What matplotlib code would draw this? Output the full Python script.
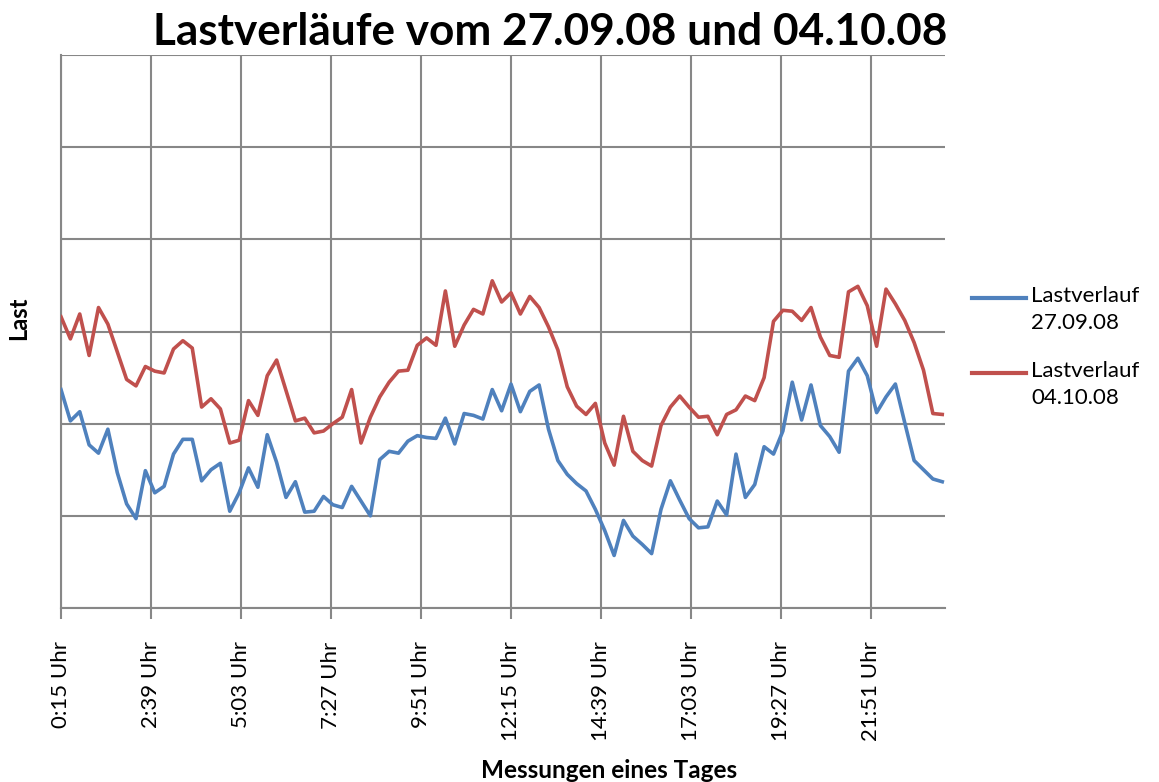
import matplotlib
matplotlib.use("Agg")
import matplotlib.pyplot as plt
from matplotlib.lines import Line2D
import numpy as np

plt.rcParams['font.family'] = ['Lato', 'DejaVu Sans']

# ---- data (arbitrary load units) ----
series_names = ["Lastverlauf\n27.09.08", "Lastverlauf\n04.10.08"]
load_2709 = [2.37, 2.03, 2.13, 1.77, 1.68, 1.94, 1.47, 1.13, 0.97, 1.49,
             1.25, 1.32, 1.67, 1.83, 1.83, 1.38, 1.50, 1.57, 1.05, 1.25,
             1.52, 1.31, 1.88, 1.58, 1.20, 1.37, 1.04, 1.05, 1.21, 1.12,
             1.09, 1.32, 1.16, 1.00, 1.61, 1.70, 1.68, 1.81, 1.87, 1.85,
             1.84, 2.06, 1.78, 2.11, 2.09, 2.05, 2.37, 2.14, 2.43, 2.13,
             2.35, 2.42, 1.94, 1.60, 1.45, 1.35, 1.27, 1.07, 0.84, 0.57,
             0.95, 0.78, 0.69, 0.59, 1.07, 1.38, 1.17, 0.97, 0.87, 0.88,
             1.16, 1.01, 1.67, 1.20, 1.34, 1.75, 1.67, 1.92, 2.45, 2.04,
             2.42, 1.98, 1.86, 1.69, 2.57, 2.71, 2.52, 2.12, 2.29, 2.43,
             2.01, 1.60, 1.50, 1.40, 1.37]
load_0410 = [3.16, 2.92, 3.19, 2.74, 3.26, 3.08, 2.78, 2.48, 2.41, 2.62,
             2.57, 2.55, 2.81, 2.90, 2.82, 2.18, 2.27, 2.16, 1.79, 1.82,
             2.25, 2.09, 2.52, 2.69, 2.36, 2.03, 2.06, 1.90, 1.92, 2.00,
             2.07, 2.37, 1.79, 2.07, 2.29, 2.45, 2.57, 2.58, 2.85, 2.93,
             2.85, 3.44, 2.84, 3.07, 3.24, 3.19, 3.55, 3.32, 3.42, 3.19,
             3.38, 3.26, 3.05, 2.80, 2.40, 2.19, 2.10, 2.22, 1.79, 1.55,
             2.08, 1.70, 1.60, 1.54, 1.98, 2.18, 2.30, 2.18, 2.07, 2.08,
             1.88, 2.10, 2.15, 2.30, 2.25, 2.50, 3.11, 3.23, 3.22, 3.12,
             3.26, 2.94, 2.74, 2.72, 3.43, 3.49, 3.28, 2.84, 3.46, 3.30,
             3.12, 2.88, 2.58, 2.11, 2.10]
tick_labels = ["0:15 Uhr", "2:39 Uhr", "5:03 Uhr", "7:27 Uhr", "9:51 Uhr",
               "12:15 Uhr", "14:39 Uhr", "17:03 Uhr", "19:27 Uhr", "21:51 Uhr"]
colors = ["#4F81BD", "#C0504D"]

W, H = 1159, 782
fig = plt.figure(figsize=(W / 100, H / 100), dpi=100)
L, R, T, B = 61, 945, 55, 608
ax = fig.add_axes([L / W, (H - B) / H, (R - L) / W, (B - T) / H])

x = np.arange(len(load_2709))
ax.plot(x, load_2709, color=colors[0], lw=2.6, solid_joinstyle='round', zorder=3)
ax.plot(x, load_0410, color=colors[1], lw=2.6, solid_joinstyle='round', zorder=3)

ax.set_xlim(0, 884 / 9.375)
ax.set_ylim(0, 6)

grid_c = "#878787"
ax.set_yticks(np.arange(0, 7))
ax.set_yticklabels([])
ax.tick_params(axis='y', length=0)
xt = np.arange(len(tick_labels)) * 9.6
ax.set_xticks(xt)
ax.set_xticklabels(tick_labels, rotation=90, fontsize=16, color="black")
ax.tick_params(axis='x', length=8, width=1.5, color=grid_c, pad=16)
ax.grid(True, color=grid_c, lw=1.5, zorder=0)
ax.set_axisbelow(True)
for s in ["top", "right"]:
    ax.spines[s].set_visible(False)
for s in ["left", "bottom"]:
    ax.spines[s].set_color(grid_c)
    ax.spines[s].set_linewidth(1.5)

fig.text(550 / W, 1 - 32 / H, "Lastverläufe vom 27.09.08 und 04.10.08",
         ha='center', va='center', fontsize=31.8, fontweight='bold')
fig.text(609 / W, 1 - 770 / H, "Messungen eines Tages",
         ha='center', va='center', fontsize=17.5, fontweight='bold')
fig.text(19 / W, 1 - 318 / H, "Last", rotation=90,
         ha='center', va='center', fontsize=17, fontweight='bold')

# legend
for i, (name, c) in enumerate(zip(series_names, colors)):
    ly = 298 + i * 75
    fig.add_artist(Line2D([972 / W, 1026 / W], [1 - ly / H, 1 - ly / H],
                          color=c, lw=3, transform=fig.transFigure))
    fig.text(1031 / W, 1 - (ly - 12) / H, name, ha='left', va='top',
             fontsize=16, linespacing=1.45)

fig.savefig("out.png", dpi=100)
